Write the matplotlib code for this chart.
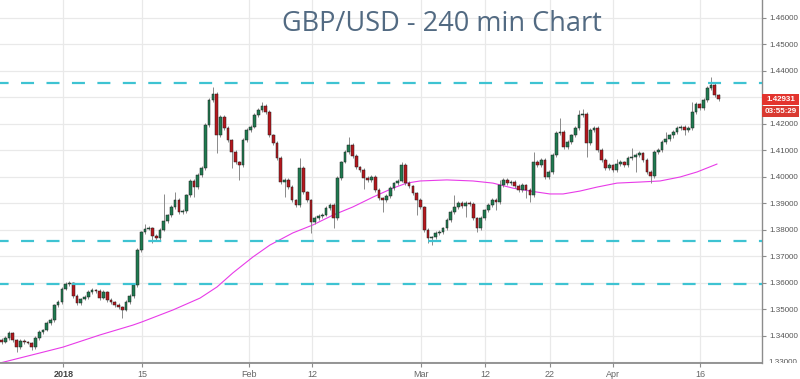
import numpy as np
import matplotlib
matplotlib.use('Agg')
import matplotlib.pyplot as plt
from matplotlib.transforms import Bbox, TransformedBbox, blended_transform_factory
from matplotlib.patches import Rectangle

# ---------------- data ----------------
first_open = 1.3385
closes = [
    1.3376, 1.3391, 1.3410, 1.3384, 1.3357, 1.3380, 1.3376, 1.3372, 1.3357, 1.3391,
    1.3414, 1.3422, 1.3448, 1.3459, 1.3516, 1.3527, 1.3576, 1.3595, 1.3599, 1.3550,
    1.3523, 1.3538, 1.3546, 1.3565, 1.3572, 1.3569, 1.3542, 1.3565, 1.3535, 1.3527,
    1.3516, 1.3508, 1.3497, 1.3527, 1.3550, 1.3591, 1.3723, 1.3791, 1.3803, 1.3806,
    1.3776, 1.3769, 1.3799, 1.3833, 1.3855, 1.3886, 1.3912, 1.3867, 1.3871, 1.3931,
    1.3984, 1.3961, 1.4006, 1.4033, 1.4195, 1.4289, 1.4312, 1.4157, 1.4225, 1.4184,
    1.4138, 1.4093, 1.4055, 1.4044, 1.4138, 1.4176, 1.4188, 1.4233, 1.4252, 1.4267,
    1.4244, 1.4157, 1.4127, 1.4071, 1.3980, 1.3988, 1.3961, 1.3912, 1.3893, 1.4033,
    1.3942, 1.3912, 1.3829, 1.3844, 1.3852, 1.3855, 1.3882, 1.3893, 1.3844, 1.3995,
    1.4055, 1.4093, 1.4120, 1.4078, 1.4037, 1.4025, 1.3995, 1.3988, 1.3999, 1.3950,
    1.3920, 1.3912, 1.3927, 1.3957, 1.3976, 1.3984, 1.4044, 1.3976, 1.3965, 1.3938,
    1.3912, 1.3886, 1.3799, 1.3769, 1.3772, 1.3788, 1.3791, 1.3806, 1.3837, 1.3867,
    1.3886, 1.3901, 1.3889, 1.3901, 1.3897, 1.3844, 1.3806, 1.3844, 1.3874, 1.3893,
    1.3912, 1.3905, 1.3969, 1.3988, 1.3976, 1.3980, 1.3965, 1.3950, 1.3969, 1.3950,
    1.3931, 1.4055, 1.4044, 1.4063, 1.3999, 1.4018, 1.4082, 1.4165, 1.4169, 1.4112,
    1.4131, 1.4157, 1.4184, 1.4233, 1.4238, 1.4127, 1.4176, 1.4184, 1.4101, 1.4063,
    1.4033, 1.4044, 1.4025, 1.4048, 1.4055, 1.4044, 1.4071, 1.4074, 1.4082, 1.4089,
    1.4063, 1.4018, 1.4003, 1.4093, 1.4101, 1.4131, 1.4142, 1.4157, 1.4169, 1.4184,
    1.4188, 1.4176, 1.4184, 1.4244, 1.4274, 1.4259, 1.4289, 1.4335, 1.4346, 1.4308,
    1.42931,
]
wick_up_pips = [
    5, 7, 6, 4, 5, 6, 8, 5, 6, 7,
    6, 5, 7, 6, 5, 8, 6, 9, 7, 5,
    6, 5, 7, 6, 8, 5, 6, 7, 5, 6,
    5, 6, 4, 7, 6, 5, 8, 6, 20, 7,
    5, 6, 7, 100, 6, 8, 30, 6, 7, 5,
    8, 6, 7, 9, 8, 10, 26, 6, 8, 7,
    6, 5, 7, 6, 8, 7, 6, 9, 7, 15,
    6, 8, 5, 7, 6, 9, 6, 7, 5, 38,
    7, 6, 5, 8, 6, 7, 9, 6, 7, 8,
    6, 7, 30, 6, 8, 5, 7, 6, 8, 7,
    6, 5, 7, 9, 6, 8, 10, 6, 7, 5,
    6, 8, 5, 7, 6, 9, 7, 6, 8, 7,
    45, 6, 8, 7, 6, 9, 5, 7, 6, 8,
    7, 6, 20, 8, 6, 7, 9, 6, 7, 5,
    6, 38, 7, 8, 6, 9, 7, 8, 53, 6,
    7, 6, 8, 19, 19, 6, 7, 8, 6, 7,
    6, 8, 5, 19, 7, 6, 8, 34, 6, 7,
    6, 8, 7, 6, 9, 7, 26, 6, 8, 7,
    6, 7, 8, 38, 7, 6, 8, 9, 30, 6,
    5,
]
wick_dn_pips = [
    6, 5, 7, 6, 19, 6, 8, 5, 10, 6,
    7, 6, 5, 8, 6, 7, 6, 5, 7, 8,
    6, 7, 5, 6, 8, 6, 7, 5, 6, 8,
    6, 7, 30, 5, 6, 8, 6, 7, 6, 5,
    25, 6, 7, 5, 8, 6, 7, 9, 6, 8,
    6, 38, 7, 6, 8, 6, 7, 68, 6, 8,
    7, 60, 6, 57, 8, 7, 6, 5, 7, 6,
    8, 6, 7, 6, 9, 55, 7, 6, 8, 6,
    7, 6, 41, 8, 6, 7, 5, 8, 38, 6,
    7, 5, 6, 8, 7, 6, 40, 7, 8, 6,
    7, 45, 6, 8, 7, 6, 5, 8, 7, 6,
    55, 8, 7, 20, 25, 6, 8, 7, 6, 9,
    7, 6, 8, 40, 6, 7, 15, 6, 8, 7,
    6, 30, 8, 7, 6, 9, 7, 6, 8, 30,
    25, 7, 6, 8, 7, 6, 9, 7, 8, 6,
    7, 8, 6, 7, 9, 53, 6, 7, 8, 7,
    6, 8, 7, 6, 9, 7, 8, 6, 57, 7,
    8, 6, 26, 7, 6, 8, 7, 6, 9, 7,
    6, 19, 7, 8, 6, 7, 9, 6, 8, 7,
    6,
]
ma_bar = [-0.4, 4.9, 10.2, 16.3, 26.1, 34.8, 37.2, 45.4, 52.6, 57.1, 61.3, 66.6,
          71.1, 77.2, 82.5, 87.8, 93.1, 98.4, 103.7, 107.4, 110.9, 118.0, 124.9,
          130.2, 135.5, 140.0, 145.3, 148.8, 153.3, 157.8, 163.1, 169.2, 174.5,
          179.8, 184.3, 189.6]
ma_value = [1.3297, 1.3316, 1.3335, 1.3357, 1.3403, 1.3440, 1.3452, 1.3497, 1.3542,
            1.3584, 1.3637, 1.3697, 1.3742, 1.3788, 1.3818, 1.3855, 1.3886, 1.3923,
            1.3957, 1.3976, 1.3984, 1.3988, 1.3984, 1.3976, 1.3957, 1.3946, 1.3935,
            1.3935, 1.3946, 1.3961, 1.3976, 1.3980, 1.3984, 1.3999, 1.4018, 1.4048]
level_lines = [1.4355, 1.3757, 1.3595]
x_tick_labels = ['2018', '15', 'Feb', '12', 'Mar', '12', '22', 'Apr', '16']
x_tick_bars = [16.4, 37.2, 65.7, 82.4, 111.2, 128.1, 145.3, 162.1, 185.1]
grid_prices = [1.33, 1.34, 1.35, 1.36, 1.37, 1.38, 1.39, 1.40, 1.41, 1.42, 1.43,
               1.44, 1.45, 1.46]
y_ticks = [1.34, 1.35, 1.36, 1.37, 1.38, 1.39, 1.40, 1.41, 1.42, 1.44, 1.45, 1.46]
y_cut_tick = 1.33
last_price_text = '1.42931'
countdown_text = '03:55:29'
title_text = 'GBP/USD - 240 min Chart'

# ---------------- figure ----------------
W, H = 800, 379
fig = plt.figure(figsize=(W / 100, H / 100), dpi=100)
fig.patch.set_facecolor('white')
ax = fig.add_axes([0, 16 / H, 762 / W, 363 / H])
ax.set_facecolor('white')

n = len(closes)
x = np.arange(n)
c = np.array(closes)
o = np.concatenate([[first_open], c[:-1]])
hi = np.maximum(o, c) + np.array(wick_up_pips) * 1e-4
lo = np.minimum(o, c) - np.array(wick_dn_pips) * 1e-4

ax.set_xlim(-0.4, 201.5)
ax.set_ylim(1.3297, 1.4667)

# grid
for yt in grid_prices:
    ax.axhline(yt, color='#e9e9e9', lw=0.9, zorder=0)
for xt in x_tick_bars:
    ax.axvline(xt, color='#e9e9e9', lw=0.9, zorder=0)

# moving average
ax.plot(ma_bar, ma_value, color='#e83be8', lw=0.8, zorder=2, solid_capstyle='round')

# candles
up = c >= o
ax.vlines(x, lo, hi, color='#8a8a8a', lw=0.7, zorder=3)
body_h = np.where(np.abs(c - o) < 0.00025, 0.00025, np.abs(c - o))
body_b = np.minimum(o, c)
ax.bar(x[up], body_h[up], bottom=body_b[up], width=0.72, color='#1f7a50',
       edgecolor='#202020', linewidth=0.35, zorder=4)
ax.bar(x[~up], body_h[~up], bottom=body_b[~up], width=0.72, color='#b5171d',
       edgecolor='#202020', linewidth=0.35, zorder=4)

# horizontal dashed levels
lw = 1.6
for lvl in level_lines:
    ax.axhline(lvl, color='#3ec3d2', lw=lw, zorder=5,
               linestyle=(1.98, (5.85, 5.6)))

# axes styling
for s in ['top', 'left']:
    ax.spines[s].set_visible(False)
ax.spines['right'].set_color('#8c8c8c')
ax.spines['bottom'].set_color('#8c8c8c')
ax.spines['right'].set_linewidth(1.0)
ax.spines['bottom'].set_linewidth(1.3)

ax.yaxis.tick_right()
ax.set_yticks(y_ticks)
ax.set_yticklabels(['%.5f' % v for v in y_ticks])
ax.tick_params(axis='y', length=3, width=0.8, color='#8c8c8c', pad=2.5,
               labelsize=5.8, labelcolor='#555555')
ax.set_xticks(x_tick_bars)
ax.set_xticklabels(x_tick_labels)
ax.tick_params(axis='x', length=3, width=0.8, color='#8c8c8c', pad=2,
               labelsize=6.5, labelcolor='#666666')
for lab in ax.get_xticklabels() + ax.get_yticklabels():
    lab.set_fontfamily('Liberation Sans')
ax.get_xticklabels()[0].set_fontweight('bold')
ax.get_xticklabels()[0].set_color('#444444')

# partially hidden bottom price label
tr = blended_transform_factory(ax.transAxes, ax.transData)
t = ax.text(1.0 + 6 / 762, y_cut_tick, '%.5f' % y_cut_tick, transform=tr,
            fontsize=5.8, color='#555555', va='center', ha='left',
            family='Liberation Sans', clip_on=True)
t.set_clip_box(TransformedBbox(Bbox([[0.9, 16 / H], [1.0, 1.0]]), fig.transFigure))

# last price / countdown labels
trf = blended_transform_factory(fig.transFigure, ax.transData)
box_h = 11 / 2650
last_p = closes[-1]
ax.add_patch(Rectangle((762 / W, last_p - box_h / 2), 37 / W, box_h, transform=trf,
                       facecolor='#e3342e', edgecolor='none', clip_on=False, zorder=6))
ax.text(780.5 / W, last_p, last_price_text, transform=trf, ha='center', va='center',
        fontsize=5.8, color='white', fontweight='bold', family='Liberation Sans',
        clip_on=False, zorder=7)
y2 = last_p - box_h / 2 - 1 / 2650 - box_h
ax.add_patch(Rectangle((762 / W, y2), 37 / W, box_h, transform=trf,
                       facecolor='#d93a31', edgecolor='none', clip_on=False, zorder=6))
ax.text(780.5 / W, y2 + box_h / 2, countdown_text, transform=trf, ha='center', va='center',
        fontsize=5.8, color='white', fontweight='bold', family='Liberation Sans',
        clip_on=False, zorder=7)

# title
fig.text(442 / W, 1 - 24 / H, title_text, ha='center', va='center', fontsize=19.5,
         color='#526a82', family='Open Sans')

fig.savefig('out.png', dpi=100, facecolor='white')
